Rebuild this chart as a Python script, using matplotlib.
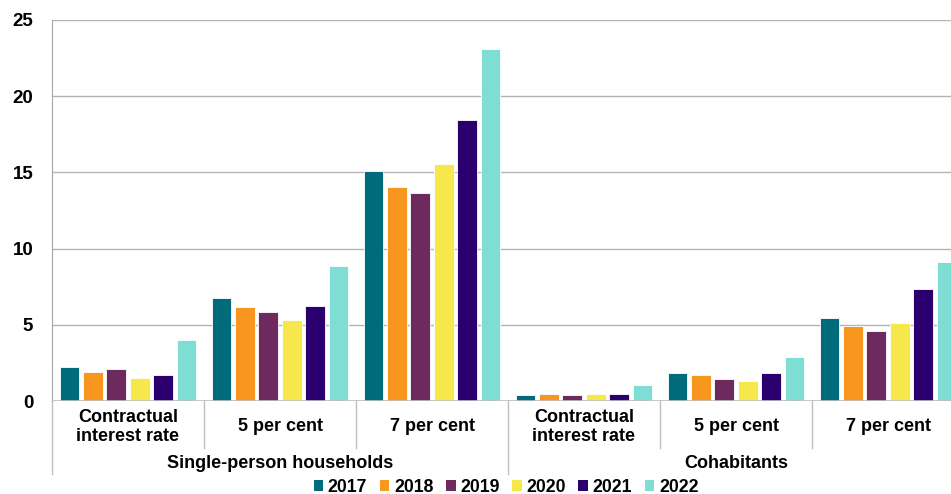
import matplotlib.pyplot as plt
import matplotlib.transforms as mtransforms
from matplotlib.patches import Patch
import numpy as np

plt.rcParams['font.family'] = ['Liberation Sans', 'DejaVu Sans']
plt.rcParams['font.weight'] = 'bold'

# Data: share of households by interest rate scenario
categories = ['Contractual\ninterest rate', '5 per cent', '7 per cent',
              'Contractual\ninterest rate', '5 per cent', '7 per cent']
groups = ['Single-person households', 'Cohabitants']
years = ['2017', '2018', '2019', '2020', '2021', '2022']

v2017 = [2.21, 6.76, 15.11, 0.41, 1.84, 5.45]
v2018 = [1.90, 6.19, 14.06, 0.46, 1.71, 4.94]
v2019 = [2.10, 5.84, 13.67, 0.37, 1.44, 4.61]
v2020 = [1.51, 5.34, 15.57, 0.44, 1.31, 5.12]
v2021 = [1.71, 6.21, 18.46, 0.46, 1.84, 7.33]
v2022 = [3.98, 8.86, 23.08, 1.05, 2.87, 9.10]
series = [v2017, v2018, v2019, v2020, v2021, v2022]

colors = ['#006B7B', '#F7971F', '#6C2A5F', '#F6E84B', '#2B006E', '#7FDED3']

W, H = 951, 494
fig = plt.figure(figsize=(W / 100, H / 100), dpi=100)
ax = fig.add_axes([52 / W, 1 - 401 / H, 912 / W, 381 / H])

x = np.arange(len(categories))
step, width = 0.154, 0.13
for i, (vals, col) in enumerate(zip(series, colors)):
    ax.bar(x + (i - 2.5) * step, vals, width, color=col,
           edgecolor='white', linewidth=0.6, label=years[i], zorder=3)

ax.set_xlim(-0.5, 5.5)
ax.set_ylim(0, 25)
ax.set_yticks(range(0, 26, 5))
ax.tick_params(axis='y', length=0, pad=13.5, labelsize=13.5)
ax.set_xticks([])
ax.grid(axis='y', color='#B4B4B4', linewidth=1, zorder=0)
for s in ['top', 'right', 'bottom']:
    ax.spines[s].set_visible(False)
ax.spines['left'].set_color('#A6A6A6')
ax.spines['left'].set_bounds(0, 25)
ax.axhline(0, color='#BFBFBF', linewidth=1.2, zorder=4)

# two-level category axis drawn below the plot
trans = mtransforms.blended_transform_factory(ax.transData, ax.transAxes)
for xs in [0.5, 1.5, 3.5, 4.5]:
    ax.plot([xs, xs], [0, -0.123], transform=trans, color='#BFBFBF',
            linewidth=1, clip_on=False)
for xs in [-0.5, 2.5]:
    ax.plot([xs, xs], [0, -0.192], transform=trans, color='#BFBFBF',
            linewidth=1, clip_on=False)
for xi, lab in zip(x, categories):
    ax.text(xi, -0.068, lab, transform=trans, ha='center', va='center',
            fontsize=13, fontweight='bold', linespacing=1.2)
for xi, lab in zip([1, 4], groups):
    ax.text(xi, -0.163, lab, transform=trans, ha='center', va='center',
            fontsize=13, fontweight='bold')

handles = [Patch(facecolor=c, label=y) for c, y in zip(colors, years)]
fig.legend(handles=handles, loc='center', bbox_to_anchor=(506 / W, 1 - 487 / H),
           ncol=6, frameon=False, fontsize=12.7, handlelength=0.55,
           handleheight=0.55, handletextpad=0.25, columnspacing=0.72,
           borderpad=0)

fig.savefig('out.png', dpi=100)
